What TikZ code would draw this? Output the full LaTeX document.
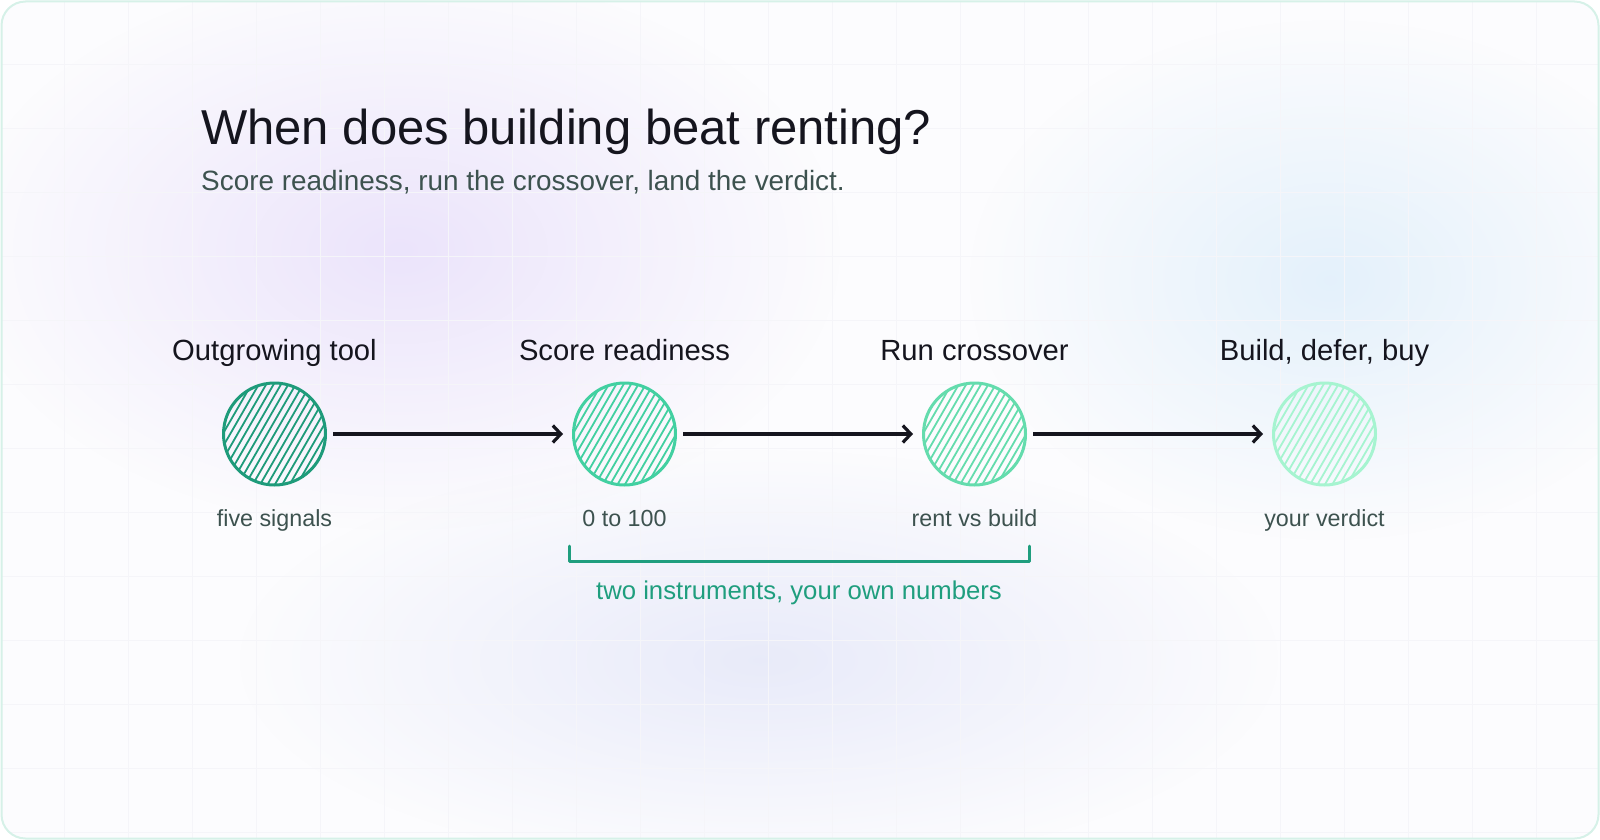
\documentclass[tikz,border=0pt]{standalone}
\usepackage{fontspec}
\setmainfont{Liberation Sans}
\usepackage{tikz}
\usetikzlibrary{arrows.meta,calc,fadings,positioning}
\definecolor{inkdark}{HTML}{15151E}
\definecolor{slate}{HTML}{3D524F}
\definecolor{tealline}{HTML}{1F9E7E}
\definecolor{mintA}{HTML}{1E9B7A}
\definecolor{mintB}{HTML}{42D0A1}
\definecolor{mintC}{HTML}{64DCAD}
\definecolor{mintD}{HTML}{A6F4D0}
\definecolor{framemint}{HTML}{D6F1E8}
\definecolor{gridfaint}{HTML}{F5F5F9}
\definecolor{bgbase}{HTML}{FCFCFE}
\definecolor{blobpurple}{HTML}{E6DCFA}
\definecolor{blobblue}{HTML}{DCEDFA}
\definecolor{blobsky}{HTML}{E2E5F8}
\tikzfading[name=softblob,inner color=transparent!25,outer color=transparent!100]
\tikzset{disc/.style={circle,minimum size=102pt,inner sep=0pt,draw=#1,line width=3pt,
path picture={\foreach \k in {-8,...,8}{
\draw[#1,line width=1.8pt] ($(path picture bounding box.center)+(30:\k*6.4)+(-60:60)$)--($(path picture bounding box.center)+(30:\k*6.4)+(120:60)$);}}},
toplbl/.style={anchor=base,text=inkdark,font=\fontsize{29.2}{34}\selectfont},
sublbl/.style={anchor=base,text=slate,font=\fontsize{23.3}{28}\selectfont},
flow/.style={-{Straight Barb[length=8pt,width=17pt]},line width=3.2pt,inkdark,shorten <=6pt,shorten >=9pt},
bracket/.style={tealline,line width=3pt,line cap=round,line join=round},
gridline/.style={gridfaint,line width=0.8pt}}

\begin{document}
\begin{tikzpicture}[x=1pt,y=-1pt]
\useasboundingbox (0,0) rectangle (1600,840);
\begin{scope}
\clip[rounded corners=24pt] (1,1) rectangle (1599,839);
\fill[bgbase] (0,0) rectangle (1600,840);
\fill[blobpurple,path fading=softblob] (400,250) ellipse (440 and 280);
\fill[blobblue,path fading=softblob] (1330,280) ellipse (360 and 260);
\fill[blobsky,path fading=softblob] (760,660) ellipse (520 and 210);
\foreach \x in {64,128,...,1536} {\draw[gridline] (\x,0)--(\x,840);}
\foreach \y in {64,128,...,832} {\draw[gridline] (0,\y)--(1600,\y);}
\end{scope}
\draw[framemint,line width=2pt,rounded corners=24pt] (1.5,1.5) rectangle (1598.5,838.5);

\node[anchor=base west,text=inkdark,font=\fontsize{49}{56}\selectfont,inner sep=0pt] (title) at (201,145) {When does building beat renting?};
\node[anchor=base west,text=slate,font=\fontsize{27.9}{32}\selectfont,inner sep=0pt] (subtitle) at (201,190) {Score readiness, run the crossover, land the verdict.};

\foreach \i/\x/\col/\top/\bot in {1/274.5/mintA/{Outgrowing tool}/{five signals},
2/624.5/mintB/{Score readiness}/{0 to 100},
3/974.5/mintC/{Run crossover}/{rent vs build},
4/1324.5/mintD/{Build, defer, buy}/{your verdict}} {
\node[disc=\col] (s\i) at (\x,434) {};
\node[toplbl] (t\i) at (\x,360) {\top};
\node[sublbl] (b\i) at (\x,526) {\bot};}

\draw[flow] (s1)--(s2);
\draw[flow] (s2)--(s3);
\draw[flow] (s3)--(s4);

\coordinate (bkL) at (569,546);
\coordinate (bkR) at (1029,546);
\draw[bracket] (bkL)--++(0,15)-|(bkR);
\node[anchor=base,text=tealline,font=\fontsize{25.7}{30}\selectfont] (note) at (799,599) {two instruments, your own numbers};
\end{tikzpicture}
\end{document}
